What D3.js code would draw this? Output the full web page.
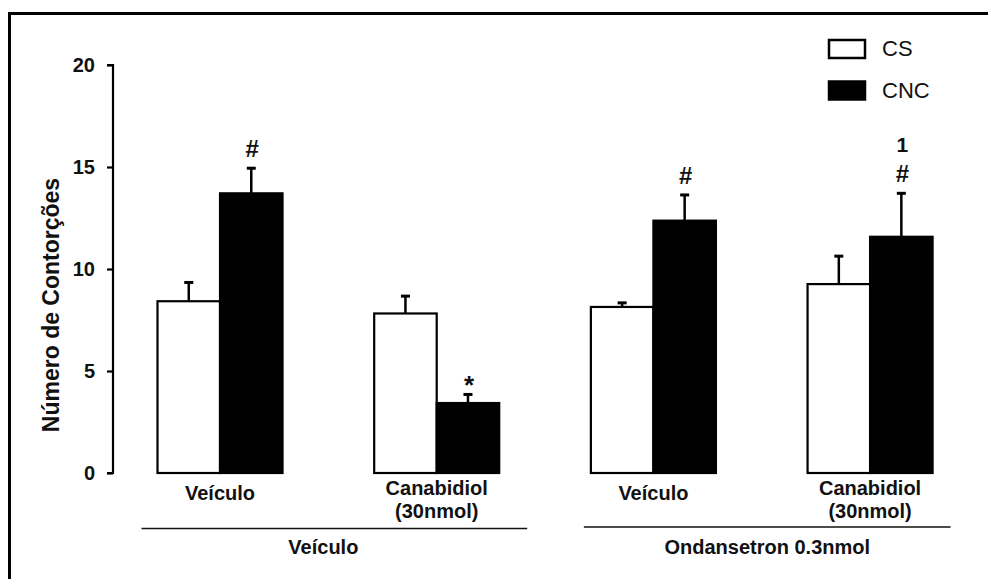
<!DOCTYPE html>
<html>
<head>
<meta charset="utf-8">
<script src="https://cdn.jsdelivr.net/npm/d3@7"></script>
<style>
  html, body { margin: 0; padding: 0; background: #fff; }
  svg { display: block; }
  text { font-family: "Liberation Sans", Arial, sans-serif; fill: #111; }
</style>
</head>
<body>
<svg id="chart" width="988" height="579"></svg>
<script>
// ---- data ----
const groups = ["g1", "g2", "g3", "g4"];
const groupLabels = [["Veículo"], ["Canabidiol", "(30nmol)"], ["Veículo"], ["Canabidiol", "(30nmol)"]];
const seriesNames = ["CS", "CNC"];
const csValues = [8.42, 7.82, 8.14, 9.26];
const csErrors = [0.92, 0.85, 0.20, 1.37];
const cncValues = [13.71, 3.43, 12.37, 11.58];
const cncErrors = [1.23, 0.42, 1.26, 2.13];
const cncMarks = [["#"], ["*"], ["#"], ["1", "#"]];
const yTicks = [0, 5, 10, 15, 20];
const treatmentLabels = ["Veículo", "Ondansetron 0.3nmol"];
const treatmentGroups = [["g1", "g2"], ["g3", "g4"]];
const yTitle = "Número de Contorções";

// ---- layout ----
const svg = d3.select("#chart");
const W = 988, H = 579;

// frame (top and left edges)
svg.append("line").attr("x1", 8).attr("x2", W).attr("y1", 13.5).attr("y2", 13.5)
  .attr("stroke", "#000").attr("stroke-width", 3);
svg.append("line").attr("x1", 9.5).attr("x2", 9.5).attr("y1", 12).attr("y2", H)
  .attr("stroke", "#000").attr("stroke-width", 3);

const y = d3.scaleLinear().domain([0, 20]).range([473, 65]);
const x0 = d3.scaleBand().domain(groups).range([157.5, 932.6]).paddingInner(0.423).paddingOuter(0);
const x1 = d3.scaleBand().domain(seriesNames).range([0, x0.bandwidth()]).padding(0);

// y axis
const axisX = 113;
const yAxis = d3.axisLeft(y).tickValues(yTicks).tickSize(6).tickPadding(12).tickFormat(d3.format("d"));
const ag = svg.append("g").attr("transform", `translate(${axisX},0)`).call(yAxis);
ag.select(".domain").attr("stroke", "#000").attr("stroke-width", 2.2).attr("d", `M-6,${y(20)}H0V${y(0)}H-6`);
ag.selectAll(".tick line").attr("stroke", "#000").attr("stroke-width", 2.2);
ag.selectAll(".tick text").style("font-family", '"Liberation Sans", Arial, sans-serif')
  .style("font-size", "20px").style("font-weight", "bold").attr("fill", "#111");

// y title
svg.append("text")
  .attr("transform", `translate(59,${(y(0) + y(20)) / 2 + 36}) rotate(-90)`)
  .attr("text-anchor", "middle")
  .style("font-size", "23px").style("font-weight", "bold")
  .text(yTitle);

// bars
const rows = groups.map((g, i) => ({
  g, i,
  bars: [
    { s: "CS", v: csValues[i], e: csErrors[i], fill: "#fff", marks: [] },
    { s: "CNC", v: cncValues[i], e: cncErrors[i], fill: "#000", marks: cncMarks[i] }
  ]
}));

const gg = svg.append("g").selectAll("g.grp").data(rows).join("g")
  .attr("class", "grp").attr("transform", d => `translate(${x0(d.g)},0)`);

const bar = gg.selectAll("g.bar").data(d => d.bars).join("g").attr("class", "bar");

// error bars (upper only)
bar.append("line")
  .attr("x1", d => x1(d.s) + x1.bandwidth() / 2)
  .attr("x2", d => x1(d.s) + x1.bandwidth() / 2)
  .attr("y1", d => y(d.v)).attr("y2", d => y(d.v + d.e))
  .attr("stroke", "#000").attr("stroke-width", 2.5);
bar.append("line")
  .attr("x1", d => x1(d.s) + x1.bandwidth() / 2 - 4.5)
  .attr("x2", d => x1(d.s) + x1.bandwidth() / 2 + 4.5)
  .attr("y1", d => y(d.v + d.e)).attr("y2", d => y(d.v + d.e))
  .attr("stroke", "#000").attr("stroke-width", 3);

bar.append("rect")
  .attr("x", d => x1(d.s))
  .attr("y", d => y(d.v))
  .attr("width", x1.bandwidth())
  .attr("height", d => y(0) - y(d.v))
  .attr("fill", d => d.fill)
  .attr("stroke", "#000").attr("stroke-width", 2.2);

// significance marks
bar.each(function (d) {
  const n = d.marks.length;
  d.marks.forEach((m, k) => {
    const top = y(d.v + d.e);
    const isStar = m === "*";
    d3.select(this).append("text")
      .attr("x", x1(d.s) + x1.bandwidth() / 2 + 1)
      .attr("y", top - (isStar ? 0 : 11) - (n - 1 - k) * 30)
      .attr("text-anchor", "middle")
      .style("font-size", isStar ? "26px" : (m === "#" ? "24px" : "21px"))
      .style("font-weight", "bold")
      .text(m);
  });
});

// group labels
const lab = svg.append("g").selectAll("text.gl").data(groups).join("text")
  .attr("class", "gl")
  .attr("x", d => x0(d) + x0.bandwidth() / 2)
  .attr("text-anchor", "middle")
  .style("font-size", "20px").style("font-weight", "bold");
lab.each(function (d, i) {
  const lines = groupLabels[i];
  const t = d3.select(this);
  if (lines.length === 1) {
    t.append("tspan").attr("x", x0(d) + x0.bandwidth() / 2).attr("y", 500).text(lines[0]);
  } else {
    lines.forEach((l, k) => t.append("tspan")
      .attr("x", x0(d) + x0.bandwidth() / 2).attr("y", 495 + k * 23).text(l));
  }
});

// treatment brackets
const lineExt = [[-16, 28], [-7, 18]];
treatmentGroups.forEach((tg, i) => {
  const xa = x0(tg[0]) + lineExt[i][0];
  const xb = x0(tg[1]) + x0.bandwidth() + lineExt[i][1];
  const ly = i === 0 ? 528.5 : 527;
  svg.append("line").attr("x1", xa).attr("x2", xb).attr("y1", ly).attr("y2", ly)
    .attr("stroke", "#111").attr("stroke-width", 1.6);
  const cx = i === 0
    ? (x0(tg[0]) + x0(tg[1]) + x0.bandwidth()) / 2 - 5
    : (xa + xb) / 2;
  svg.append("text").attr("x", cx).attr("y", 554)
    .attr("text-anchor", "middle")
    .style("font-size", "20px").style("font-weight", "bold")
    .text(treatmentLabels[i]);
});

// legend
const leg = svg.append("g").attr("transform", "translate(828,39)");
const legFills = ["#fff", "#000"];
seriesNames.forEach((s, i) => {
  const gy = i * 41.5;
  leg.append("rect").attr("x", 1).attr("y", gy + 1).attr("width", 36).attr("height", 18)
    .attr("fill", legFills[i]).attr("stroke", "#000").attr("stroke-width", 2.5);
  leg.append("text").attr("x", 54).attr("y", gy + 17)
    .style("font-size", "22px")
    .text(s);
});
</script>
</body>
</html>
